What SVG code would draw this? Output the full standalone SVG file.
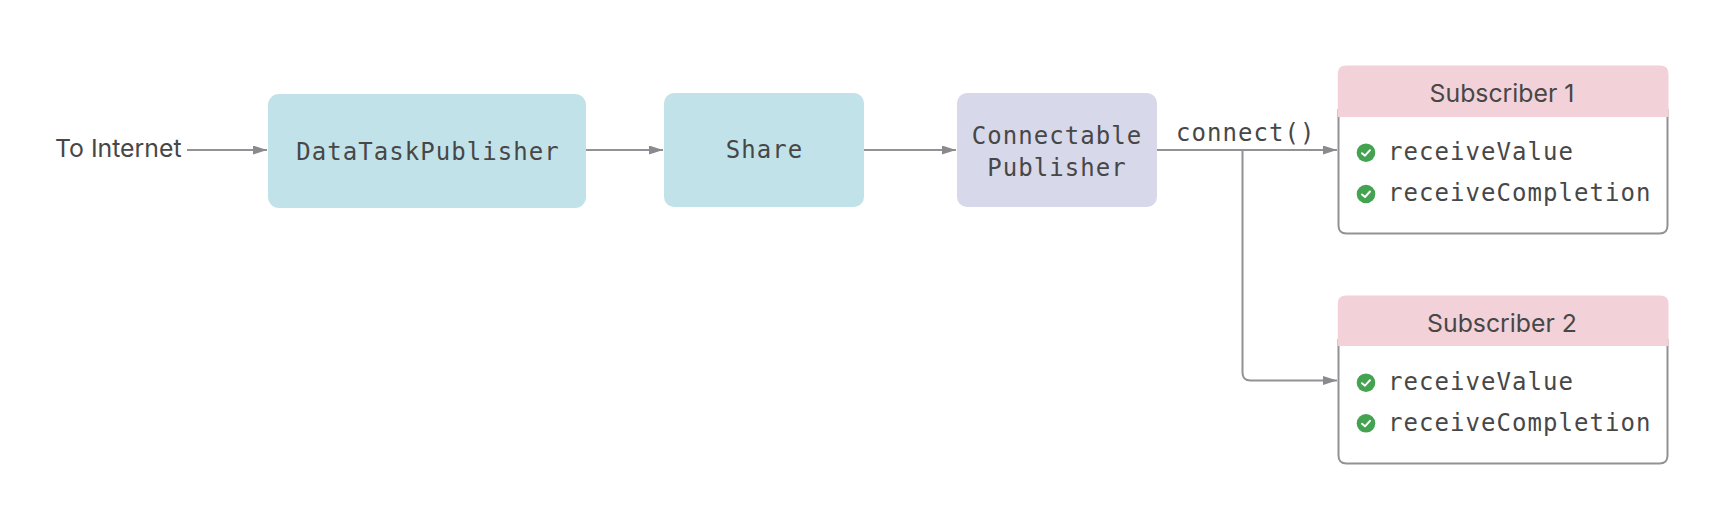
<svg xmlns="http://www.w3.org/2000/svg" width="1714" height="510" viewBox="0 0 1714 510">
<style>
.mono{font-family:"DejaVu Sans Mono","Liberation Mono",monospace;font-size:24px;letter-spacing:1.05px;fill:#474747;}
.sans{font-family:Inter,"Liberation Sans",sans-serif;font-size:24.8px;fill:#474747;}
.c{text-anchor:middle}
.line{fill:none;stroke:#929296;stroke-width:2;}
.card{fill:#fff;stroke:#929296;stroke-width:2;}
.head{fill:#f3d1d8;}
.ok{fill:#43a351;}
.tick{fill:none;stroke:#fff;stroke-width:2;stroke-linecap:round;stroke-linejoin:round;}
</style>
<defs>
<marker id="arrow" markerUnits="userSpaceOnUse" markerWidth="14" markerHeight="9" refX="14" refY="4.500" orient="auto"><path d="M0 0L14 4.500L0 9Z" fill="#8a8a8e"/></marker>
<g id="check"><circle r="9.3" class="ok"/><path d="M-4 0.5L-1 3L4 -2.5" class="tick"/></g>
</defs>
<rect width="1714" height="510" fill="#fff"/>
<g id="connectors">
<path class="line" marker-end="url(#arrow)" d="M187 150H267"/>
<path class="line" marker-end="url(#arrow)" d="M586 150H663"/>
<path class="line" marker-end="url(#arrow)" d="M864 150H956"/>
<path class="line" marker-end="url(#arrow)" d="M1157 150H1337"/>
<path class="line" marker-end="url(#arrow)" d="M1242.5 150V372.5Q1242.5 380.5 1250.5 380.500H1337"/>
</g>
<g id="to-internet"><text class="sans" x="55" y="157">To Internet</text></g>
<g id="data-task-publisher"><rect x="268" y="94" width="318" height="114" rx="11" fill="#c2e2e9"/><text class="mono c" x="428" y="159.500">DataTaskPublisher</text></g>
<g id="share"><rect x="664" y="93" width="200" height="114" rx="10" fill="#c2e2e9"/><text class="mono c" x="764.500" y="157.500">Share</text></g>
<g id="connectable-publisher"><rect x="957" y="93" width="200" height="114" rx="10" fill="#d7d8e9"/><text class="mono c" x="1057" y="143.500">Connectable</text><text class="mono c" x="1057" y="175.500">Publisher</text></g>
<g id="connect-label"><text class="mono" x="1176" y="140.500">connect()</text></g>
<g id="subscriber-1">
<path class="card" d="M1338.500 110V225.500Q1338.500 233.500 1346.500 233.500H1659.500Q1667.500 233.500 1667.500 225.500V110Z"/>
<path class="head" d="M1337.800 117V74Q1337.800 65.600 1346 65.600H1660Q1668.500 65.600 1668.500 74V117Z"/>
<text class="sans c" x="1502" y="102">Subscriber 1</text>
<use href="#check" x="1366" y="152.700"/><text class="mono" x="1388" y="159.500">receiveValue</text>
<use href="#check" x="1366" y="194"/><text class="mono" x="1388" y="200.500">receiveCompletion</text>
</g>
<g id="subscriber-2">
<path class="card" d="M1338.500 340V455.500Q1338.500 463.500 1346.500 463.500H1659.500Q1667.500 463.500 1667.500 455.500V340Z"/>
<path class="head" d="M1337.800 346V303.500Q1337.800 295.500 1346 295.500H1660Q1668.500 295.500 1668.500 303.500V346Z"/>
<text class="sans c" x="1502" y="332">Subscriber 2</text>
<use href="#check" x="1366" y="382.700"/><text class="mono" x="1388" y="389.500">receiveValue</text>
<use href="#check" x="1366" y="423.300"/><text class="mono" x="1388" y="430.500">receiveCompletion</text>
</g>
</svg>
